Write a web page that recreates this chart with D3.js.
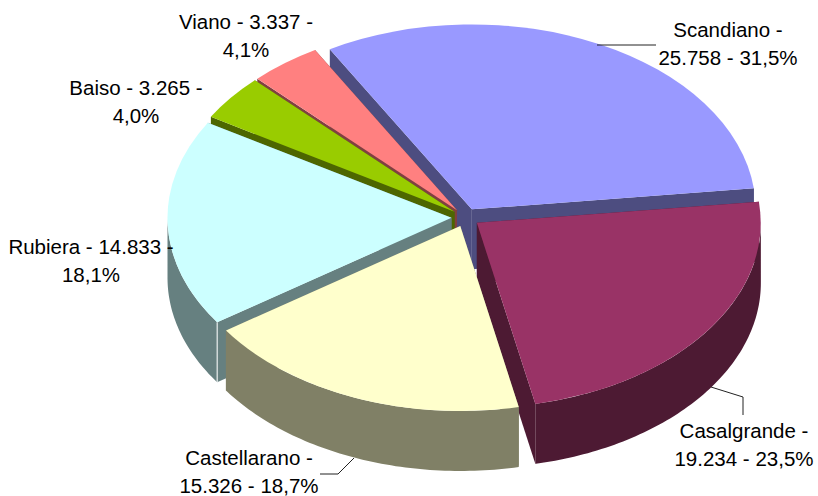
<!DOCTYPE html>
<html>
<head>
<meta charset="utf-8">
<script src="https://cdn.jsdelivr.net/npm/d3@7"></script>
<style>
  html, body { margin: 0; padding: 0; background: #fff; }
  svg { display: block; }
  text { font-family: "Liberation Sans", Arial, sans-serif; font-size: 20.5px; fill: #000; }
</style>
</head>
<body>
<div id="chart"></div>
<script>
// data
const categories = ['Scandiano', 'Casalgrande', 'Castellarano', 'Rubiera', 'Baiso', 'Viano'];
const values = [25758, 19234, 15326, 14833, 3265, 3337];
const topColors = ['#9999FF', '#993366', '#FFFFCC', '#CCFFFF', '#99CC00', '#FF8080'];
const sideColors = ['#4D4D80', '#4D1A33', '#808066', '#668080', '#4D6600', '#804040'];

// defining dimensions
const w = 818;
const h = 496;
const cx = 465.5;
const cy = 217.5;
const rx = 284;
const ry = 185;
const depth = 60;
const explode = 14;
const deg = Math.PI / 180;

// back slices first, the front ones paint over them
const drawOrder = [0, 5, 4, 3, 1, 2];

// label placement, same order as categories
const labelPos = [
  { x: 728, y: 37, lines: [d => d.name + ' -', d => d.value + ' - ' + d.pct] },
  { x: 744, y: 438, lines: [d => d.name + ' -', d => d.value + ' - ' + d.pct] },
  { x: 249, y: 465, lines: [d => d.name + ' -', d => d.value + ' - ' + d.pct] },
  { x: 91, y: 254, lines: [d => d.name + ' - ' + d.value + ' -', d => d.pct] },
  { x: 136, y: 95, lines: [d => d.name + ' - ' + d.value + ' -', d => d.pct] },
  { x: 246, y: 29, lines: [d => d.name + ' - ' + d.value + ' -', d => d.pct] }
];
const leaders = [
  [[597, 45], [656, 45]],
  [[711, 387], [743, 397], [743, 415]],
  [[354, 458], [338, 474], [320, 474]]
];

const svg = d3.select('#chart').append('svg')
  .attr('width', w)
  .attr('height', h);

const pie = d3.pie()
  .sort(null)
  .startAngle(-30 * deg)
  .endAngle(330 * deg);
const arcs = pie(values);
const total = d3.sum(values);

// unit radius arc, scaled to the ellipse afterwards
const arc = d3.arc().innerRadius(0).outerRadius(1);
const line = d3.line();

// position on the rim of a slice
const rim = (a, center, dy) => [
  center[0] + rx * Math.sin(a),
  center[1] - ry * Math.cos(a) + dy
];
const sliceCenter = d => {
  const mid = (d.startAngle + d.endAngle) / 2;
  return [cx + explode * Math.sin(mid), cy - explode * (ry / rx) * Math.cos(mid)];
};
const cutFace = (a, center) => line([
  center,
  rim(a, center, 0),
  rim(a, center, depth),
  [center[0], center[1] + depth]
]) + 'Z';
const wall = (d, center) => {
  const a0 = Math.max(d.startAngle, 90 * deg);
  const a1 = Math.min(d.endAngle, 270 * deg);
  if (a0 >= a1) return null;
  const angles = d3.range(a0, a1, deg).concat([a1]);
  const upper = angles.map(a => rim(a, center, 0));
  const lower = angles.slice().reverse().map(a => rim(a, center, depth));
  return line(upper.concat(lower)) + 'Z';
};

// drawing slices
const slices = svg.selectAll('g.slice')
  .data(drawOrder.map(i => arcs[i]))
  .enter().append('g')
  .attr('class', 'slice');

slices.each(function (d) {
  const g = d3.select(this);
  const c = sliceCenter(d);
  const side = sideColors[d.index];
  [d.startAngle, d.endAngle].forEach(a => {
    g.append('path').attr('d', cutFace(a, c)).attr('fill', side);
  });
  const wallPath = wall(d, c);
  if (wallPath) g.append('path').attr('d', wallPath).attr('fill', side);
  g.append('path')
    .attr('d', arc(d))
    .attr('transform', 'translate(' + c[0] + ',' + c[1] + ') scale(' + rx + ',' + ry + ')')
    .attr('fill', topColors[d.index]);
  // the reference has a thin white gap between Rubiera's wall and its cut face
  if (categories[d.index] === 'Rubiera') {
    g.append('path')
      .attr('d', line([rim(d.startAngle, c, 0), rim(d.startAngle, c, depth)]))
      .attr('stroke', '#fff')
      .attr('stroke-width', 1);
  }
});

// leader lines
svg.selectAll('path.leader')
  .data(leaders)
  .enter().append('path')
  .attr('class', 'leader')
  .attr('d', d => line(d))
  .attr('fill', 'none')
  .attr('stroke', '#222')
  .attr('stroke-width', 1);

// labels, italian number format
const it = d3.formatLocale({ decimal: ',', thousands: '.', grouping: [3], currency: ['', ''] });
const fmtValue = it.format(',');
const fmtPct = it.format('.1%');

categories.forEach((name, i) => {
  const info = { name: name, value: fmtValue(values[i]), pct: fmtPct(values[i] / total) };
  const pos = labelPos[i];
  pos.lines.forEach((fn, j) => {
    svg.append('text')
      .attr('x', pos.x)
      .attr('y', pos.y + j * 27.5)
      .attr('text-anchor', 'middle')
      .text(fn(info));
  });
});
</script>
</body>
</html>
